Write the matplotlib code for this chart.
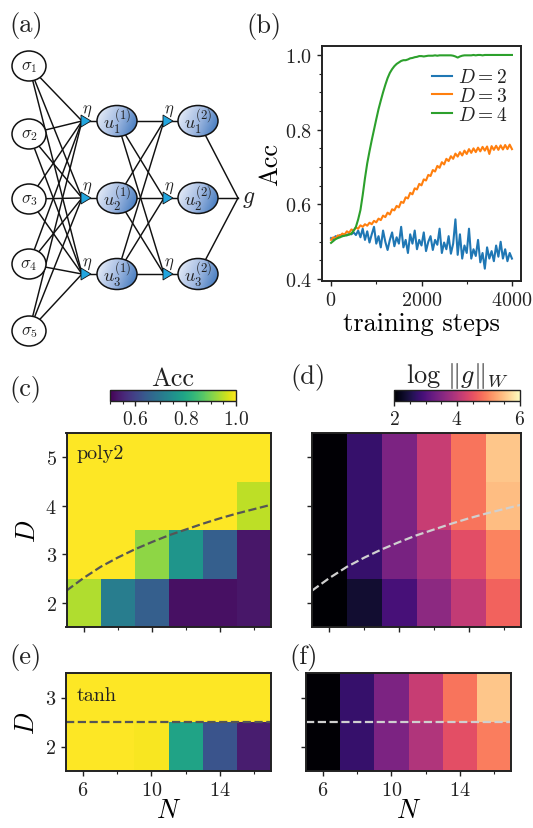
import numpy as np
import matplotlib
matplotlib.use("Agg")
import matplotlib.pyplot as plt
from matplotlib.patches import Ellipse, Polygon
from matplotlib.colors import LinearSegmentedColormap
from matplotlib.ticker import MultipleLocator, NullFormatter

# ---------------- data ----------------
steps = np.arange(0, 4001, 50)  # training steps

acc_D2 = [0.510, 0.505, 0.515, 0.512, 0.518, 0.515, 0.520, 0.517, 0.522, 0.520,
          0.525, 0.518, 0.530, 0.512, 0.535, 0.505, 0.528, 0.498, 0.520, 0.540,
          0.495, 0.515, 0.485, 0.530, 0.500, 0.478, 0.505, 0.525, 0.488, 0.512,
          0.495, 0.540, 0.485, 0.505, 0.470, 0.520, 0.495, 0.530, 0.480, 0.505,
          0.490, 0.525, 0.475, 0.500, 0.515, 0.478, 0.505, 0.492, 0.535, 0.470,
          0.498, 0.480, 0.515, 0.468, 0.495, 0.560, 0.465, 0.520, 0.455, 0.490,
          0.470, 0.535, 0.455, 0.480, 0.462, 0.505, 0.445, 0.470, 0.428, 0.485,
          0.455, 0.475, 0.448, 0.490, 0.460, 0.500, 0.455, 0.480, 0.448, 0.470,
          0.455]
acc_D3 = [0.505, 0.512, 0.509, 0.517, 0.516, 0.522, 0.519, 0.528, 0.524, 0.533,
          0.530, 0.538, 0.535, 0.544, 0.540, 0.547, 0.543, 0.551, 0.547, 0.556,
          0.552, 0.562, 0.558, 0.570, 0.566, 0.578, 0.573, 0.587, 0.584, 0.596,
          0.592, 0.607, 0.604, 0.619, 0.616, 0.631, 0.627, 0.643, 0.640, 0.655,
          0.651, 0.667, 0.664, 0.679, 0.676, 0.692, 0.688, 0.703, 0.698, 0.713,
          0.707, 0.722, 0.716, 0.729, 0.722, 0.736, 0.728, 0.740, 0.731, 0.744,
          0.735, 0.748, 0.738, 0.750, 0.740, 0.752, 0.742, 0.754, 0.744, 0.755,
          0.735, 0.756, 0.746, 0.757, 0.746, 0.758, 0.747, 0.759, 0.748, 0.760,
          0.748]
acc_D4 = [0.497, 0.502, 0.507, 0.510, 0.512, 0.515, 0.516, 0.518, 0.519, 0.522,
          0.530, 0.540, 0.560, 0.585, 0.625, 0.670, 0.710, 0.742, 0.772, 0.800,
          0.828, 0.855, 0.878, 0.900, 0.920, 0.938, 0.952, 0.962, 0.970, 0.976,
          0.980, 0.984, 0.986, 0.986, 0.988, 0.991, 0.992, 0.994, 0.995, 0.997,
          0.997, 0.996, 0.997, 0.998, 0.998, 0.998, 0.999, 0.998, 0.999, 0.999,
          0.999, 0.999, 0.999, 0.999, 0.998, 0.996, 0.993, 0.996, 0.998, 0.999,
          0.999, 0.999, 0.999, 1.000, 0.999, 1.000, 1.000, 0.999, 1.000, 1.000,
          1.000, 1.000, 1.000, 1.000, 1.000, 1.000, 1.000, 1.000, 1.000, 1.000,
          1.000]

N_vals = [6, 8, 10, 12, 14, 16]
D_poly = [2, 3, 4, 5]
D_tanh = [2, 3]

acc_poly = [[0.94, 0.71, 0.65, 0.52, 0.52, 0.53],
            [1.00, 1.00, 0.915, 0.76, 0.65, 0.53],
            [1.00, 1.00, 1.00, 1.00, 1.00, 0.95],
            [1.00, 1.00, 1.00, 1.00, 1.00, 1.00]]
logg_poly = [[1.95, 2.36, 2.92, 3.60, 4.12, 4.68],
             [2.03, 2.76, 3.40, 3.84, 4.44, 4.96],
             [2.03, 2.76, 3.44, 4.16, 4.84, 5.44],
             [2.03, 2.76, 3.44, 4.16, 4.84, 5.52]]
acc_tanh = [[1.00, 1.00, 0.995, 0.79, 0.63, 0.54],
            [1.00, 1.00, 1.00, 1.00, 1.00, 1.00]]
logg_tanh = [[2.03, 2.76, 3.44, 3.94, 4.46, 4.92],
             [2.03, 2.76, 3.44, 4.16, 4.84, 5.52]]

# threshold curve (c)/(d)
N_curve = [5, 6, 7, 8, 9, 10, 11, 12, 13, 14, 15, 16, 17]
D_curve = [2.25, 2.51, 2.74, 2.93, 3.10, 3.25, 3.39, 3.51, 3.63, 3.74, 3.84, 3.93, 4.02]
D_tanh_line = 2.5

# ---------------- style ----------------
plt.rcParams.update({
    "font.family": "serif",
    "font.serif": ["cmr10"],
    "mathtext.fontset": "cm",
    "axes.formatter.use_mathtext": True,
    "axes.linewidth": 1.4,
    "axes.edgecolor": "#222222",
    "xtick.major.size": 3.5, "ytick.major.size": 3.5,
    "xtick.minor.size": 2.0, "ytick.minor.size": 2.0,
    "xtick.major.width": 1.0, "ytick.major.width": 1.0,
    "xtick.minor.width": 0.8, "ytick.minor.width": 0.8,
    "xtick.labelsize": 14.5, "ytick.labelsize": 14.5,
    "axes.labelsize": 19,
    "text.color": "#222222", "xtick.color": "#222222", "ytick.color": "#222222",
})

W, H = 533, 829
fig = plt.figure(figsize=(W / 100, H / 100), dpi=100)


def px_axes(left, top, right, bottom):
    return fig.add_axes([left / W, 1 - bottom / H, (right - left) / W, (bottom - top) / H])


# ---------------- (a) network ----------------
ax_a = px_axes(0, 40, 265, 355)
sig_x, sig_y = 29, [67, 135, 200, 265, 332]
hid_y = [122, 199, 275]
tri1_x, u1_x, tri2_x, u2_x = 86, 117, 168, 198
g_join = (238, 199)
lk = dict(color="#111111", lw=1.05, zorder=1)

for sy in sig_y:
    for hy in hid_y:
        ax_a.plot([sig_x, tri1_x - 4], [sy, hy], **lk)
for hy in hid_y:
    ax_a.plot([tri1_x, u1_x], [hy, hy], **lk)
    for hy2 in hid_y:
        ax_a.plot([u1_x, tri2_x - 4], [hy, hy2], **lk)
    ax_a.plot([tri2_x, u2_x], [hy, hy], **lk)
    ax_a.plot([u2_x, g_join[0]], [hy, g_join[1]], **lk)

for i, sy in enumerate(sig_y):
    ax_a.add_patch(Ellipse((sig_x, sy), 34, 30, fc="white", ec="#111111", lw=1.1, zorder=4))
    ax_a.text(sig_x, sy, r"$\sigma_{%d}$" % (i + 1), ha="center", va="center", fontsize=12, zorder=6)

blue_cmap = LinearSegmentedColormap.from_list("nodeblue", ["#f0f4fb", "#a3bbe2", "#3570b9"])
gx, gy = np.meshgrid(np.linspace(0, 1, 60), np.linspace(0, 1, 60))
grad = 0.75 * gx + 0.25 * gy

for layer, ux in enumerate([u1_x, u2_x]):
    for j, hy in enumerate(hid_y):
        ell = Ellipse((ux, hy), 40, 31, fc="none", ec="#111111", lw=1.1, zorder=5)
        ax_a.add_patch(ell)
        img = ax_a.imshow(grad, cmap=blue_cmap, extent=(ux - 20, ux + 20, hy + 16, hy - 16),
                          aspect="auto", zorder=4, interpolation="bilinear")
        img.set_clip_path(ell)
        ax_a.text(ux, hy, r"$u_{%d}^{(%d)}$" % (j + 1, layer + 1), ha="center", va="center",
                  fontsize=13, zorder=6)

for tx in [tri1_x, tri2_x]:
    for hy in hid_y:
        ax_a.add_patch(Polygon([[tx - 5, hy - 6], [tx - 5, hy + 6], [tx + 5, hy]], closed=True,
                               fc="#23a6df", ec="#111111", lw=0.6, zorder=3))
        ax_a.text(tx + 1, hy - 11, r"$\eta$", ha="center", va="center", fontsize=12, zorder=6)

ax_a.text(g_join[0] + 4, g_join[1], r"$g$", ha="left", va="center", fontsize=17)
ax_a.set_xlim(0, 265)
ax_a.set_ylim(355, 40)
ax_a.axis("off")

# ---------------- (b) training curves ----------------
ax_b = px_axes(322, 47, 521, 282)
ax_b.plot(steps, acc_D2, color="#1f77b4", lw=1.5, label=r"$D=2$")
ax_b.plot(steps, acc_D3, color="#ff7f0e", lw=1.5, label=r"$D=3$")
ax_b.plot(steps, acc_D4, color="#2ca02c", lw=1.5, label=r"$D=4$")
ax_b.set_xlim(-200, 4200)
ax_b.set_ylim(0.395, 1.024)
ax_b.set_xticks([0, 2000, 4000])
ax_b.xaxis.set_minor_locator(MultipleLocator(1000))
ax_b.set_yticks([0.4, 0.6, 0.8, 1.0])
ax_b.yaxis.set_minor_locator(MultipleLocator(0.05))
ax_b.set_xlabel("training steps", labelpad=2)
ax_b.set_ylabel("Acc", labelpad=2)
ax_b.legend(loc="upper left", bbox_to_anchor=(0.553, 0.905), frameon=False, fontsize=14,
            handlelength=1.05, handletextpad=0.3, labelspacing=0.05, borderpad=0, borderaxespad=0)

# ---------------- heatmaps ----------------
def style_heat(ax, yticks, show_ylabels, show_xlabels):
    ax.set_xlim(5, 17)
    ax.set_xticks([6, 10, 14])
    ax.xaxis.set_minor_locator(MultipleLocator(2))
    ax.set_yticks(yticks)
    ax.set_ylim(yticks[0] - 0.5, yticks[-1] + 0.5)
    if not show_ylabels:
        ax.yaxis.set_major_formatter(NullFormatter())
    if not show_xlabels:
        ax.xaxis.set_major_formatter(NullFormatter())


ax_c = px_axes(66.5, 434, 271, 628)
im_c = ax_c.pcolormesh(N_vals, D_poly, acc_poly, cmap="viridis", vmin=0.5, vmax=1.0, shading="nearest")
ax_c.plot(N_curve, D_curve, "--", color="#555555", lw=1.6)
style_heat(ax_c, D_poly, True, False)
ax_c.set_ylabel(r"$D$")
ax_c.text(0.05, 0.945, "poly2", transform=ax_c.transAxes, ha="left", va="top", fontsize=14.5)

ax_d = px_axes(312, 434, 521, 628)
im_d = ax_d.pcolormesh(N_vals, D_poly, logg_poly, cmap="magma", vmin=2, vmax=6, shading="nearest")
ax_d.plot(N_curve, D_curve, "--", color="#d0d0d0", lw=1.6)
style_heat(ax_d, D_poly, False, False)

ax_e = px_axes(66, 674, 271, 772)
ax_e.pcolormesh(N_vals, D_tanh, acc_tanh, cmap="viridis", vmin=0.5, vmax=1.0, shading="nearest")
ax_e.axhline(D_tanh_line, ls="--", color="#555555", lw=1.6)
style_heat(ax_e, D_tanh, True, True)
ax_e.set_ylabel(r"$D$")
ax_e.set_xlabel(r"$N$", labelpad=0)
ax_e.text(0.05, 0.87, "tanh", transform=ax_e.transAxes, ha="left", va="top", fontsize=14.5)

ax_f = px_axes(306, 674, 511, 772)
ax_f.pcolormesh(N_vals, D_tanh, logg_tanh, cmap="magma", vmin=2, vmax=6, shading="nearest")
ax_f.axhline(D_tanh_line, ls="--", color="#d0d0d0", lw=1.6)
style_heat(ax_f, D_tanh, False, True)
ax_f.set_xlabel(r"$N$", labelpad=0)

# ---------------- colorbars ----------------
cax_c = px_axes(110, 390.7, 236, 401.7)
cb_c = fig.colorbar(im_c, cax=cax_c, orientation="horizontal", ticks=[0.6, 0.8, 1.0])
cb_c.ax.xaxis.set_minor_locator(MultipleLocator(0.05))
cb_c.ax.tick_params(labelsize=14)
cb_c.outline.set_linewidth(1.0)
cax_c.set_title("Acc", fontsize=19, pad=3)

cax_d = px_axes(394, 390.7, 520, 401.7)
cb_d = fig.colorbar(im_d, cax=cax_d, orientation="horizontal", ticks=[2, 4, 6])
cb_d.ax.xaxis.set_minor_locator(MultipleLocator(0.5))
cb_d.ax.tick_params(labelsize=14)
cb_d.outline.set_linewidth(1.0)
cax_d.set_title(r"$\log\,\|g\|_W$", fontsize=19, pad=3)

# ---------------- panel labels ----------------
for lbl, x, y in [("(a)", 9, 12), ("(b)", 246, 13), ("(c)", 9, 376),
                  ("(d)", 290, 364), ("(e)", 9, 644), ("(f)", 289, 644)]:
    fig.text(x / W, 1 - y / H, lbl, ha="left", va="top", fontsize=19)

fig.savefig("out.png", dpi=100)
